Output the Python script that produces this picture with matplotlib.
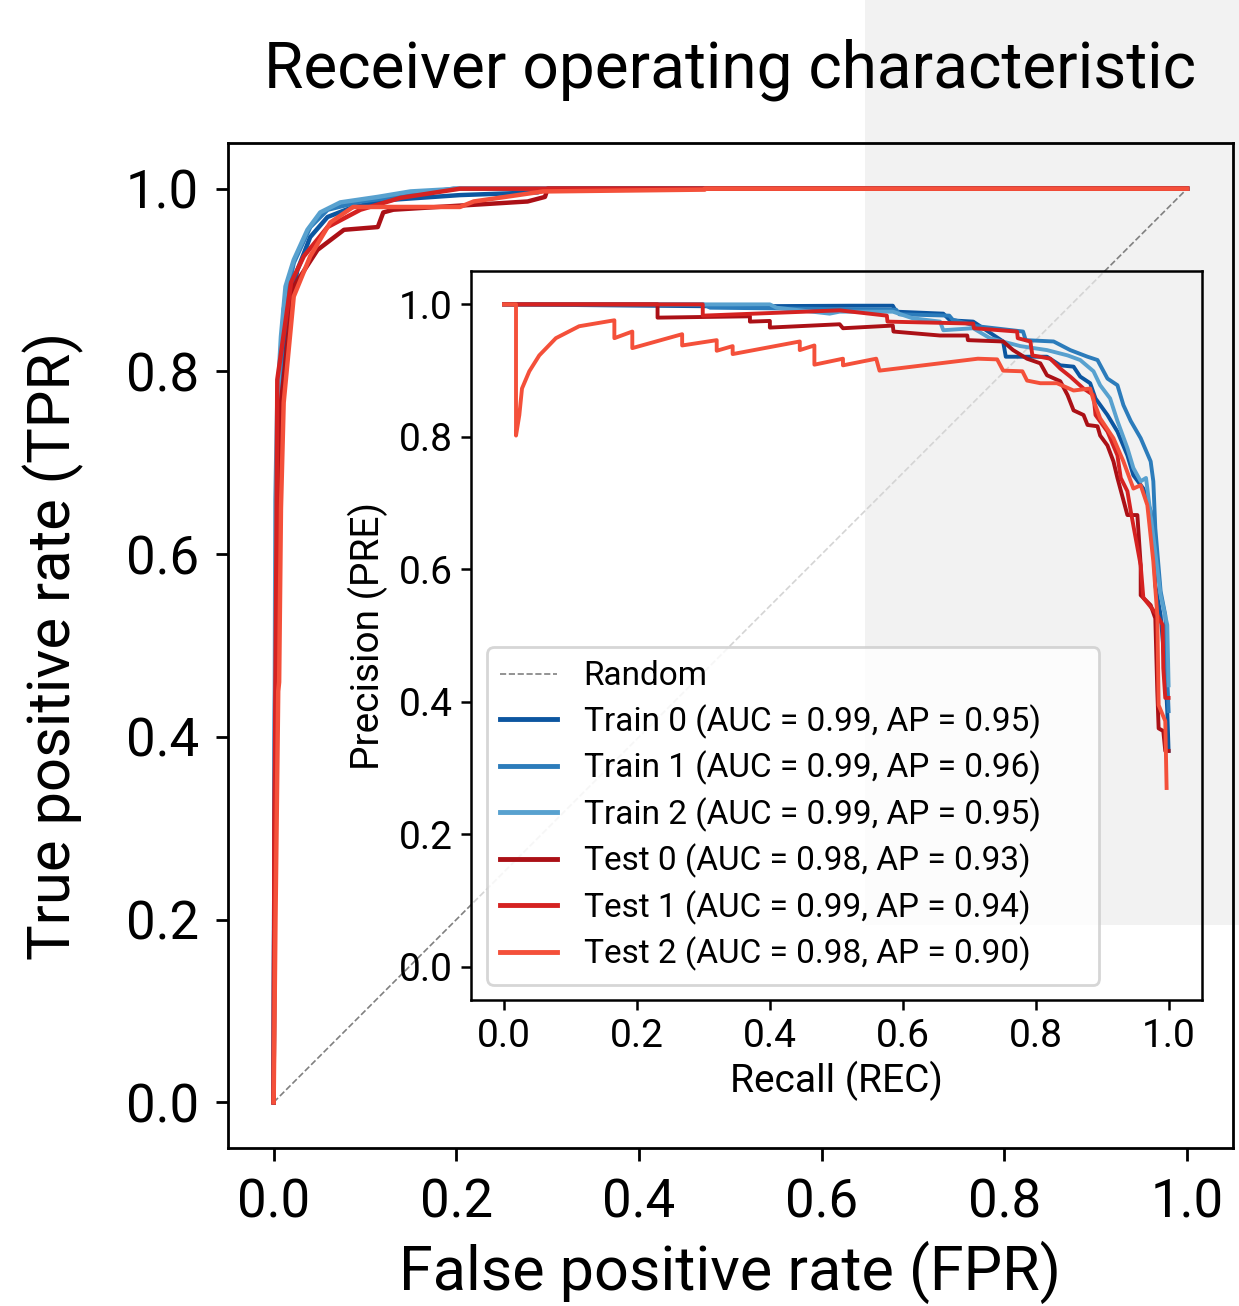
import matplotlib
matplotlib.use("Agg")
import matplotlib.pyplot as plt
from matplotlib.patches import Rectangle

plt.rcParams["font.family"] = ["Roboto", "DejaVu Sans"]

# --- data --------------------------------------------------------------
series_names = ["Train 0", "Train 1", "Train 2", "Test 0", "Test 1", "Test 2"]
series_auc = [0.99, 0.99, 0.99, 0.98, 0.99, 0.98]
series_ap = [0.95, 0.96, 0.95, 0.93, 0.94, 0.90]
series_colors = ["#0c56a0", "#2c7cbb", "#58a1cf", "#ab1016", "#d52221", "#f4503a"]

# ROC curves (false positive rate, true positive rate)
roc_fpr_train0 = [0, 0.001, 0.003, 0.008, 0.015, 0.026, 0.040, 0.059, 0.087, 0.131, 0.204, 0.289, 0.300, 1.0]
roc_tpr_train0 = [0, 0.35, 0.62, 0.766, 0.857, 0.911, 0.947, 0.969, 0.980, 0.988, 0.993, 0.996, 1.0, 1.0]
roc_fpr_train1 = [0, 0.001, 0.003, 0.006, 0.011, 0.022, 0.040, 0.059, 0.095, 0.150, 0.197, 1.0]
roc_tpr_train1 = [0, 0.35, 0.64, 0.766, 0.868, 0.919, 0.958, 0.977, 0.986, 0.993, 1.0, 1.0]
roc_fpr_train2 = [0, 0.001, 0.002, 0.004, 0.008, 0.013, 0.022, 0.037, 0.051, 0.073, 0.114, 0.150, 0.204, 1.0]
roc_tpr_train2 = [0, 0.35, 0.66, 0.766, 0.838, 0.893, 0.922, 0.955, 0.974, 0.985, 0.991, 0.997, 1.0, 1.0]
roc_fpr_test0 = [0, 0.001, 0.004, 0.008, 0.022, 0.048, 0.077, 0.114, 0.120, 0.131, 0.278, 0.297, 0.300, 1.0]
roc_tpr_test0 = [0, 0.30, 0.58, 0.766, 0.893, 0.933, 0.955, 0.958, 0.974, 0.977, 0.986, 0.991, 1.0, 1.0]
roc_fpr_test1 = [0, 0.001, 0.003, 0.004, 0.019, 0.033, 0.059, 0.095, 0.139, 0.204, 1.0]
roc_tpr_test1 = [0, 0.30, 0.60, 0.791, 0.897, 0.926, 0.958, 0.977, 0.990, 1.0, 1.0]
roc_fpr_test2 = [0, 0.002, 0.005, 0.006, 0.008, 0.011, 0.022, 0.040, 0.062, 0.087, 0.204, 0.219, 0.295, 0.472, 0.472, 1.0]
roc_tpr_test2 = [0, 0.20, 0.45, 0.46, 0.65, 0.766, 0.882, 0.926, 0.963, 0.980, 0.980, 0.986, 0.997, 0.999, 1.0, 1.0]

# precision-recall curves (recall, precision)
pr_rec_train0 = [0, 0.32, 0.52, 0.585, 0.59, 0.661, 0.671, 0.706, 0.751, 0.755, 0.817, 0.837, 0.857, 0.867,
                 0.882, 0.89, 0.908, 0.923, 0.938, 0.947, 0.962, 0.973, 0.977, 0.98, 0.988, 0.99, 0.995, 0.998, 1.0]
pr_prec_train0 = [1.0, 0.997, 0.998, 0.998, 0.989, 0.986, 0.976, 0.974, 0.944, 0.921, 0.921, 0.908, 0.906, 0.891,
                  0.881, 0.858, 0.833, 0.808, 0.772, 0.742, 0.722, 0.688, 0.647, 0.576, 0.531, 0.507, 0.446, 0.386, 0.326]
pr_rec_train1 = [0, 0.30, 0.31, 0.59, 0.595, 0.67, 0.675, 0.712, 0.781, 0.785, 0.827, 0.852, 0.878, 0.893,
                 0.908, 0.923, 0.932, 0.943, 0.958, 0.973, 0.977, 0.98, 0.988, 0.995, 0.998, 1.0]
pr_prec_train1 = [1.0, 1.0, 0.995, 0.992, 0.985, 0.983, 0.977, 0.967, 0.959, 0.946, 0.944, 0.931, 0.921, 0.916,
                  0.888, 0.878, 0.848, 0.824, 0.798, 0.763, 0.733, 0.662, 0.567, 0.531, 0.436, 0.386]
pr_rec_train2 = [0, 0.40, 0.41, 0.49, 0.505, 0.585, 0.615, 0.656, 0.661, 0.706, 0.731, 0.777, 0.817, 0.848,
                 0.867, 0.887, 0.897, 0.912, 0.923, 0.938, 0.947, 0.958, 0.966, 0.973, 0.988, 0.998, 1.0]
pr_prec_train2 = [1.0, 1.0, 0.995, 0.986, 0.989, 0.989, 0.979, 0.974, 0.961, 0.964, 0.949, 0.937, 0.931, 0.923,
                  0.916, 0.899, 0.878, 0.858, 0.824, 0.783, 0.753, 0.733, 0.738, 0.682, 0.561, 0.516, 0.425]
pr_rec_test0 = [0, 0.231, 0.231, 0.30, 0.37, 0.37, 0.40, 0.40, 0.505, 0.51, 0.585, 0.586, 0.656, 0.697, 0.698,
                0.751, 0.766, 0.787, 0.807, 0.817, 0.837, 0.848, 0.857, 0.872, 0.878, 0.893, 0.897, 0.908, 0.917,
                0.923, 0.938, 0.953, 0.958, 0.958, 0.973, 0.98, 0.983, 0.985, 0.992, 0.995, 1.0]
pr_prec_test0 = [1.0, 1.0, 0.980, 0.981, 0.982, 0.974, 0.975, 0.965, 0.970, 0.964, 0.968, 0.959, 0.953, 0.953, 0.946,
                 0.944, 0.931, 0.918, 0.911, 0.893, 0.884, 0.863, 0.840, 0.833, 0.818, 0.816, 0.802, 0.787, 0.763,
                 0.738, 0.682, 0.682, 0.606, 0.561, 0.546, 0.526, 0.416, 0.360, 0.356, 0.326, 0.326]
pr_rec_test1 = [0, 0.299, 0.299, 0.505, 0.576, 0.577, 0.706, 0.707, 0.772, 0.773, 0.792, 0.795, 0.822, 0.837,
                0.852, 0.872, 0.887, 0.890, 0.908, 0.923, 0.928, 0.938, 0.943, 0.958, 0.962, 0.983, 0.991, 0.992,
                0.995, 1.0]
pr_prec_test1 = [1.0, 1.0, 0.983, 0.991, 0.983, 0.974, 0.971, 0.964, 0.959, 0.949, 0.944, 0.923, 0.918, 0.903,
                 0.891, 0.873, 0.863, 0.833, 0.808, 0.772, 0.738, 0.718, 0.688, 0.606, 0.557, 0.531, 0.516, 0.451,
                 0.406, 0.406]
pr_rec_test2 = [0, 0.018, 0.018, 0.023, 0.027, 0.038, 0.053, 0.078, 0.113, 0.166, 0.166, 0.193, 0.193, 0.268,
                0.268, 0.32, 0.32, 0.344, 0.344, 0.445, 0.445, 0.467, 0.467, 0.51, 0.51, 0.56, 0.565, 0.713,
                0.742, 0.751, 0.78, 0.787, 0.807, 0.832, 0.857, 0.882, 0.887, 0.897, 0.917, 0.932, 0.947, 0.958,
                0.968, 0.977, 0.983, 0.985, 0.995, 0.997]
pr_prec_test2 = [1.0, 1.0, 0.802, 0.833, 0.873, 0.899, 0.923, 0.949, 0.967, 0.976, 0.949, 0.959, 0.934, 0.955,
                 0.938, 0.946, 0.930, 0.937, 0.925, 0.944, 0.931, 0.938, 0.909, 0.918, 0.908, 0.918, 0.900, 0.918,
                 0.917, 0.900, 0.899, 0.885, 0.881, 0.881, 0.870, 0.873, 0.855, 0.828, 0.798, 0.763, 0.722, 0.727,
                 0.697, 0.612, 0.531, 0.395, 0.371, 0.270]

roc_fpr = [roc_fpr_train0, roc_fpr_train1, roc_fpr_train2, roc_fpr_test0, roc_fpr_test1, roc_fpr_test2]
roc_tpr = [roc_tpr_train0, roc_tpr_train1, roc_tpr_train2, roc_tpr_test0, roc_tpr_test1, roc_tpr_test2]
pr_rec = [pr_rec_train0, pr_rec_train1, pr_rec_train2, pr_rec_test0, pr_rec_test1, pr_rec_test2]
pr_prec = [pr_prec_train0, pr_prec_train1, pr_prec_train2, pr_prec_test0, pr_prec_test1, pr_prec_test2]

tick_values = [0.0, 0.2, 0.4, 0.6, 0.8, 1.0]

# --- figure ----------------------------------------------------------------
fig = plt.figure(figsize=(12.39, 13.06), dpi=100)
fig.patch.set_facecolor("white")
# light grey block behind the upper right part of the picture
grey_box = (0.698, 0.2917, 0.302, 0.7083)
fig.patches.append(Rectangle(grey_box[:2], *grey_box[2:], transform=fig.transFigure,
                             facecolor="#f2f2f2", edgecolor="none", zorder=-1))

ax = fig.add_axes([0.184, 0.121, 0.811, 0.7695])
ax.set_facecolor("none")
ax.plot([0, 1], [0, 1], linestyle="--", color="gray", lw=1.2, label="Random")
for i, name in enumerate(series_names):
    ax.plot(roc_fpr[i], roc_tpr[i], color=series_colors[i], lw=3.2,
            label=f"{name} (AUC = {series_auc[i]:.2f}, AP = {series_ap[i]:.2f})")
ax.set_xlim(-0.05, 1.05)
ax.set_ylim(-0.05, 1.05)
ax.set_xticks(tick_values)
ax.set_yticks(tick_values)
ax.tick_params(labelsize=38, width=2, length=9, pad=12)
for sp in ax.spines.values():
    sp.set_linewidth(2)
ax.set_xlabel("False positive rate (FPR)", fontsize=44, labelpad=9)
ax.set_ylabel("True positive rate (TPR)", fontsize=43, labelpad=30)
ax.set_title("Receiver operating characteristic", fontsize=46, pad=40)

# inset: precision-recall
ax_in = fig.add_axes([0.380, 0.2343, 0.590, 0.558])
ax_in.set_facecolor("white")
ax_in.add_patch(Rectangle(grey_box[:2], *grey_box[2:], transform=fig.transFigure,
                          facecolor="#f2f2f2", edgecolor="none", zorder=0.5))
# the main diagonal seen faintly through the inset
ax_in.plot([0, 1], [0, 1], transform=ax.transData, linestyle="--", color="#d4d4d4", lw=1.2, zorder=0.6)
for i in range(len(series_names)):
    ax_in.plot(pr_rec[i], pr_prec[i], color=series_colors[i], lw=2.8)
ax_in.set_xlim(-0.05, 1.05)
ax_in.set_ylim(-0.05, 1.05)
ax_in.set_xticks(tick_values)
ax_in.set_yticks(tick_values)
ax_in.tick_params(labelsize=28, width=1.8, length=7, pad=6)
for sp in ax_in.spines.values():
    sp.set_linewidth(1.8)
ax_in.set_xlabel("Recall (REC)", fontsize=28, labelpad=4)
ax_in.set_ylabel("Precision (PRE)", fontsize=28, labelpad=8)

handles, labels = ax.get_legend_handles_labels()
leg = ax_in.legend(handles, labels, loc="lower left", bbox_to_anchor=(0.022, 0.021, 0.838, 0.5),
                   mode="expand", borderaxespad=0, fontsize=24, handlelength=1.7,
                   labelspacing=0.36, framealpha=0.8, edgecolor="#cccccc")
leg.get_frame().set_linewidth(2)
for h in leg.get_lines()[1:]:
    h.set_linewidth(3.5)

fig.savefig("out.png", dpi=100)
